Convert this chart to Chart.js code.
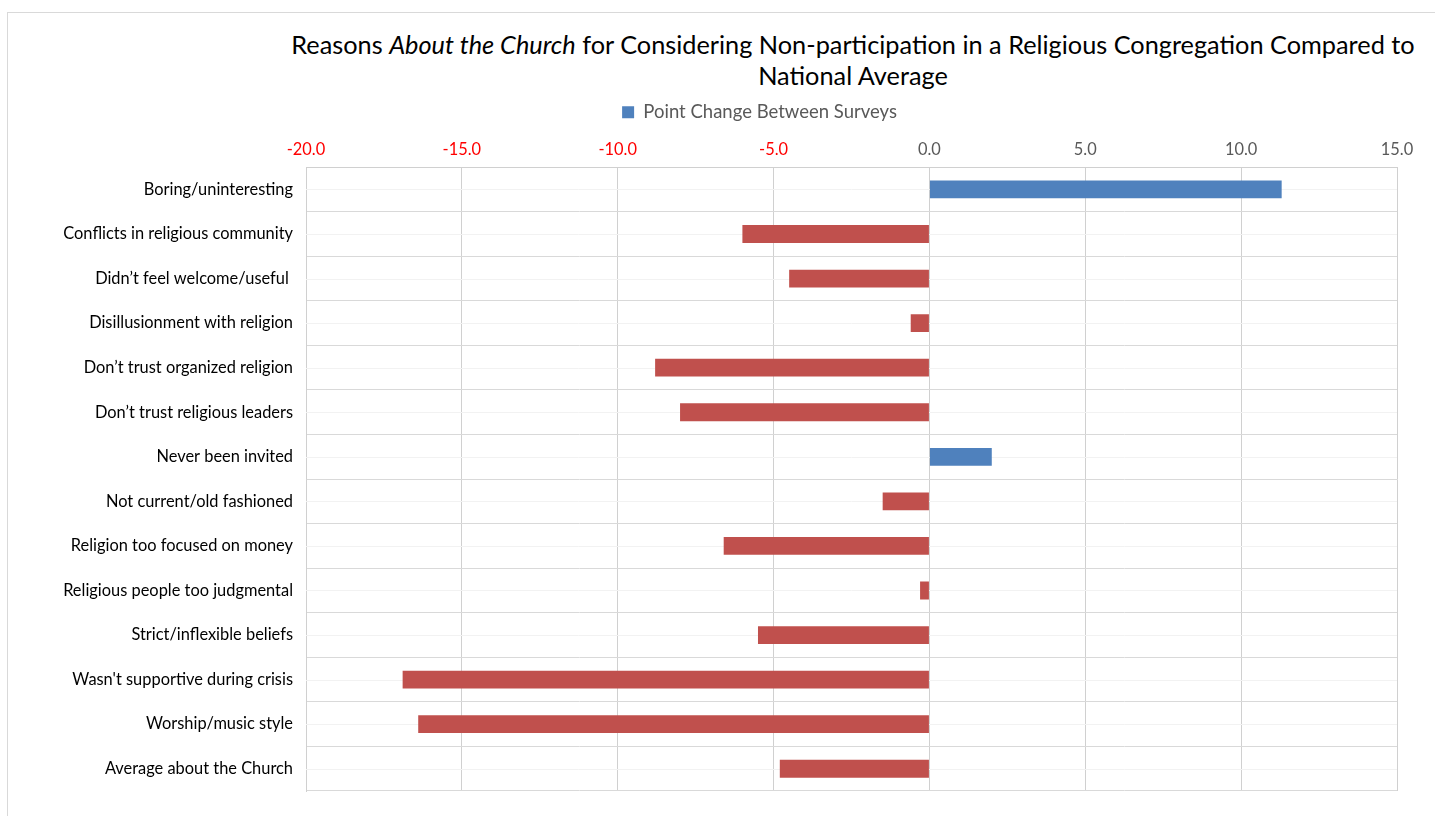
<!DOCTYPE html>
<html>
<head>
<meta charset="utf-8">
<script src="https://cdn.jsdelivr.net/npm/chart.js@4"></script>
<style>
  body { margin: 0; background: #fff; font-family: Lato, "Open Sans", sans-serif; }
  #frame { position: absolute; left: 7px; top: 12px; width: 1440px; height: 820px; border: 1px solid #d9d9d9; box-sizing: border-box; }
  #title { position: absolute; left: 280px; width: 1146px; top: 29px; text-align: center; font-size: 25.3px; line-height: 31px; color: #000; }
  #wrap { position: absolute; left: 0; top: 0; width: 1435px; height: 816px; }
</style>
</head>
<body>
<div id="frame"></div>
<div id="title">Reasons <i>About the Church</i> for Considering Non-participation in a Religious Congregation Compared to National Average</div>
<div id="wrap"><canvas id="myChart"></canvas></div>
<script>
const categories = [
  'Boring/uninteresting',
  'Conflicts in religious community',
  'Didn\u2019t feel welcome/useful ',
  'Disillusionment with religion',
  'Don\u2019t trust organized religion',
  'Don\u2019t trust religious leaders',
  'Never been invited',
  'Not current/old fashioned',
  'Religion too focused on money',
  'Religious people too judgmental',
  'Strict/inflexible beliefs',
  "Wasn't supportive during crisis",
  'Worship/music style',
  'Average about the Church'
]
const pointChange = [11.3, -6.0, -4.5, -0.6, -8.8, -8.0, 2.0, -1.5, -6.6, -0.3, -5.5, -16.9, -16.4, -4.8]
const seriesName = 'Point Change Between Surveys'
const xMin = -20
const xMax = 15
const xStep = 5

const blue = '#4f81bd'
const red = '#c0504d'

// faint line through the middle of every category, like the excel minor grid
const centerLines = {
  id: 'centerLines',
  beforeDatasetsDraw(chart) {
    const { ctx, chartArea, scales } = chart
    ctx.save()
    ctx.strokeStyle = '#f2f2f2'
    ctx.lineWidth = 1
    categories.forEach((c, i) => {
      const y = Math.round(scales.y.getPixelForValue(i)) + 0.5
      ctx.beginPath()
      ctx.moveTo(chartArea.left, y)
      ctx.lineTo(chartArea.right, y)
      ctx.stroke()
    })
    ctx.restore()
  }
}

// nudge the legend so it sits where excel put it
const legendShift = {
  id: 'legendShift',
  afterLayout(chart) {
    chart.legend.left += 56
    chart.legend.right += 56
  }
}

const myChart = new Chart('myChart', {
  type: 'bar',
  data: {
    labels: categories,
    datasets: [{
      label: seriesName,
      data: pointChange,
      backgroundColor: c => (c.raw < 0 ? red : blue),
      barPercentage: 0.4,
      categoryPercentage: 1
    }]
  },
  options: {
    indexAxis: 'y',
    responsive: true,
    maintainAspectRatio: false,
    animation: false,
    layout: { padding: { top: 95, left: 10, right: 38, bottom: 25 } },
    plugins: {
      title: { display: false },
      tooltip: { enabled: false },
      legend: {
        position: 'top',
        labels: {
          color: '#595959',
          font: { family: 'Lato', size: 18.5 },
          boxWidth: 12,
          boxHeight: 12,
          padding: 8
        }
      }
    },
    scales: {
      x: {
        position: 'top',
        min: xMin,
        max: xMax,
        ticks: {
          stepSize: xStep,
          padding: 8,
          font: { family: 'Lato', size: 16.4 },
          color: c => (c.tick && c.tick.value < 0 ? '#ff0000' : '#595959'),
          callback: v => v.toFixed(1)
        },
        grid: { color: '#d0d0d0', drawTicks: false },
        border: { color: '#d0d0d0' }
      },
      y: {
        ticks: {
          padding: 13,
          color: '#000',
          font: { family: 'Lato', size: 16.4 }
        },
        grid: { color: '#d9d9d9', drawTicks: false },
        border: { color: '#d0d0d0' },
        afterFit: s => { s.width = 296 }
      }
    }
  },
  plugins: [centerLines, legendShift]
})
</script>
</body>
</html>
